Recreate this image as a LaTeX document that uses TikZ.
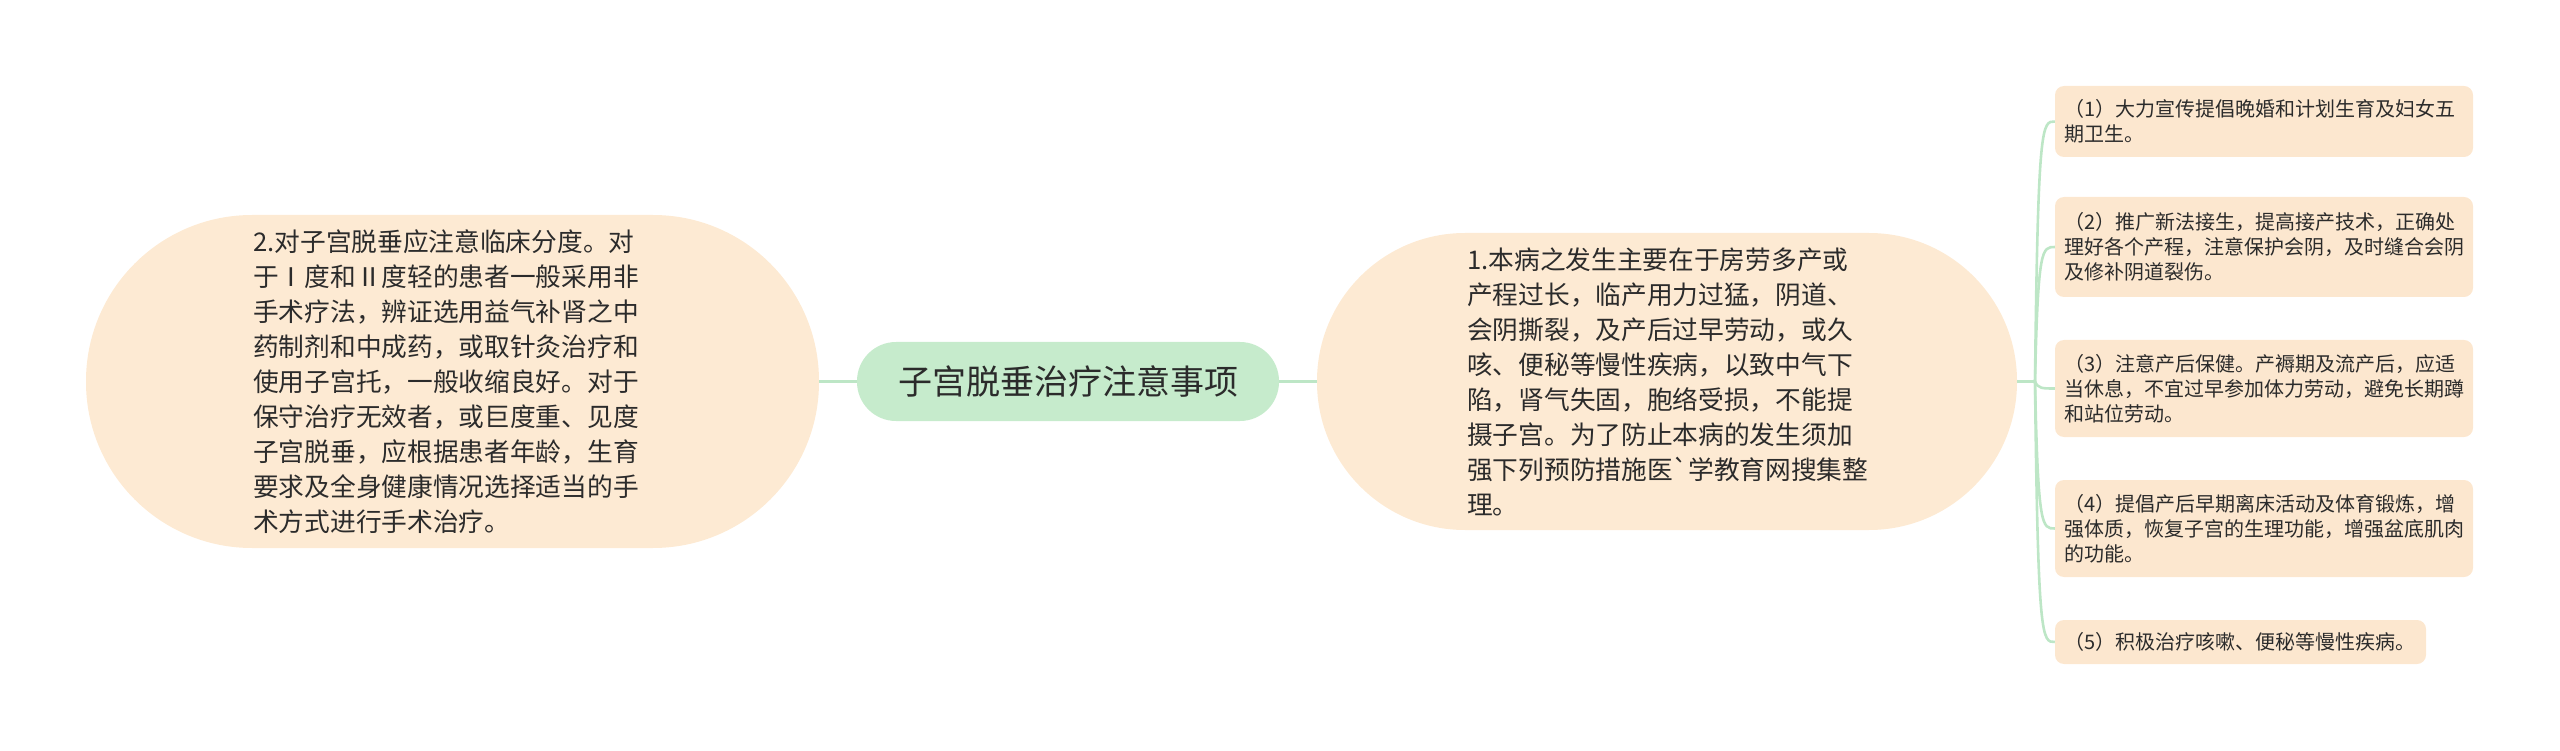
\documentclass[tikz,border=0pt]{standalone}
\usepackage{fontspec}
\setmainfont{Noto Sans CJK SC}
\definecolor{peach}{HTML}{FDEAD3}
\definecolor{peachs}{HTML}{FCE7CF}
\definecolor{mint}{HTML}{C6EBCC}
\definecolor{linkc}{HTML}{BDE6C6}
\definecolor{txt}{HTML}{2B2B2B}
\tikzset{
  bigbox/.style={fill=peach, draw=none, inner sep=0pt},
  topicbox/.style={fill=mint, draw=none, inner sep=0pt, text=txt,
    font=\fontsize{34}{40}\selectfont},
  subbox/.style={fill=peachs, draw=none, inner sep=0pt, rounded corners=9pt,
    minimum width=418pt},
  bigtext/.style={font=\fontsize{25.7}{35}\selectfont, align=left,
    inner sep=0pt, anchor=west, text=txt},
  subtext/.style={font=\fontsize{20}{25}\selectfont, align=left,
    inner sep=0pt, anchor=west, text=txt},
  link/.style={draw=linkc, line width=3pt},
  branch/.style={draw=linkc, line width=2.6pt},
}
\begin{document}
\begin{tikzpicture}[x=1pt,y=-1pt]
\useasboundingbox (0,0) rectangle (2560,751);
% main nodes
\node[bigbox, minimum width=733pt, minimum height=333pt, rounded corners=166pt] (L) at (452.5,381.5) {};
\node[topicbox, minimum width=422pt, minimum height=79pt, rounded corners=39pt] (C) at (1068,381.5) {子宫脱垂治疗注意事项};
\node[bigbox, minimum width=700pt, minimum height=297pt, rounded corners=148pt] (R) at (1667,381.5) {};
% sub nodes
\node[subbox, minimum height=71pt] (s1) at (2264,121.5) {};
\node[subbox, minimum height=100pt] (s2) at (2264,247) {};
\node[subbox, minimum height=97pt] (s3) at (2264,388.5) {};
\node[subbox, minimum height=97pt] (s4) at (2264,528.5) {};
\node[subbox, minimum height=44pt, minimum width=371pt] (s5) at (2240.5,642) {};
% texts
\node[bigtext] (Lt) at (253,381.5) {2.对子宫脱垂应注意临床分度。对\\于Ⅰ度和Ⅱ度轻的患者一般采用非\\手术疗法，辨证选用益气补肾之中\\药制剂和中成药，或取针灸治疗和\\使用子宫托，一般收缩良好。对于\\保守治疗无效者，或巨度重、见度\\子宫脱垂，应根据患者年龄，生育\\要求及全身健康情况选择适当的手\\术方式进行手术治疗。};
\node[bigtext] (Rt) at (1467,381.5) {1.本病之发生主要在于房劳多产或\\产程过长，临产用力过猛，阴道、\\会阴撕裂，及产后过早劳动，或久\\咳、便秘等慢性疾病，以致中气下\\陷，肾气失固，胞络受损，不能提\\摄子宫。为了防止本病的发生须加\\强下列预防措施医\textasciigrave{}学教育网搜集整\\理。};
\node[subtext] (t1) at (2064,121.5) {（1）大力宣传提倡晚婚和计划生育及妇女五\\期卫生。};
\node[subtext] (t2) at (2064,247) {（2）推广新法接生，提高接产技术，正确处\\理好各个产程，注意保护会阴，及时缝合会阴\\及修补阴道裂伤。};
\node[subtext] (t3) at (2064,388.5) {（3）注意产后保健。产褥期及流产后，应适\\当休息，不宜过早参加体力劳动，避免长期蹲\\和站位劳动。};
\node[subtext] (t4) at (2064,528.5) {（4）提倡产后早期离床活动及体育锻炼，增\\强体质，恢复子宫的生理功能，增强盆底肌肉\\的功能。};
\node[subtext] (t5) at (2064,642) {（5）积极治疗咳嗽、便秘等慢性疾病。};
% connectors
\coordinate (J) at (2035,381.5);
\draw[link] (L.east) -- (C.west);
\draw[link] (C.east) -- (R.west);
\draw[link] (R.east) -- (J);
\foreach \s/\y in {s1/121.5, s2/247, s3/388.5, s4/528.5, s5/642}{
  \draw[branch] (J) .. controls (2038,\y) and (2042,\y) .. (\s.west);
}
\end{tikzpicture}
\end{document}
